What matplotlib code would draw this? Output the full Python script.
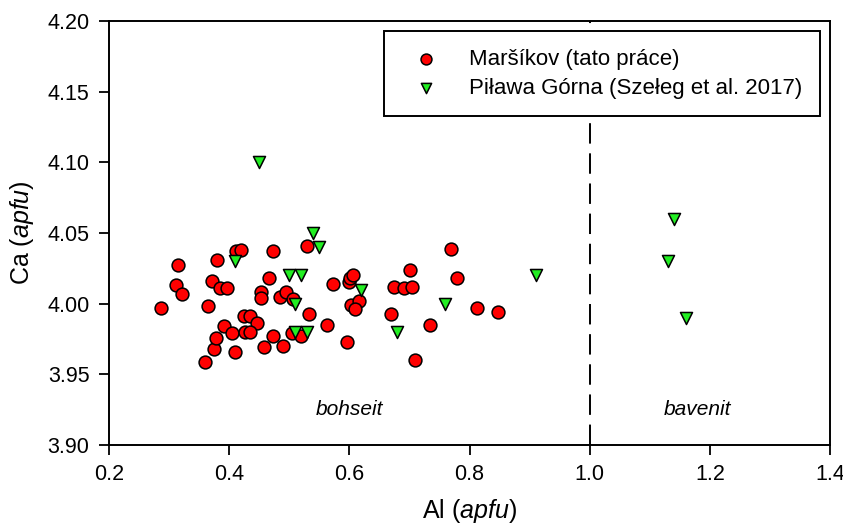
import numpy as np
import matplotlib.pyplot as plt

plt.rcParams['font.family'] = ['Liberation Sans', 'DejaVu Sans']
plt.rcParams['mathtext.fontset'] = 'custom'
plt.rcParams['mathtext.it'] = 'Liberation Sans:italic'
plt.rcParams['mathtext.rm'] = 'Liberation Sans'

# Maršíkov (this work)
al_marsikov = [0.286, 0.315, 0.311, 0.321, 0.360, 0.375, 0.378, 0.364, 0.371, 0.379,
               0.385, 0.397, 0.391, 0.405, 0.410, 0.412, 0.420, 0.425, 0.435, 0.447,
               0.426, 0.435, 0.453, 0.453, 0.466, 0.473, 0.458, 0.473, 0.489, 0.484,
               0.494, 0.506, 0.505, 0.520, 0.533, 0.530, 0.563, 0.573, 0.596, 0.599,
               0.601, 0.606, 0.602, 0.616, 0.610, 0.769, 0.701, 0.675, 0.691, 0.705,
               0.779, 0.669, 0.734, 0.812, 0.848, 0.710]
ca_marsikov = [3.997, 4.027, 4.013, 4.007, 3.959, 3.968, 3.976, 3.998, 4.016, 4.031,
               4.011, 4.011, 3.984, 3.979, 3.966, 4.037, 4.038, 3.991, 3.991, 3.986,
               3.980, 3.980, 4.008, 4.004, 4.018, 4.037, 3.969, 3.977, 3.970, 4.005,
               4.008, 4.003, 3.979, 3.977, 3.993, 4.041, 3.985, 4.014, 3.973, 4.015,
               4.018, 4.020, 3.999, 4.002, 3.996, 4.039, 4.024, 4.012, 4.011, 4.012,
               4.018, 3.993, 3.985, 3.997, 3.994, 3.960]

# Piława Górna (Szełeg et al. 2017)
al_pilawa = [0.45, 0.54, 0.55, 0.41, 0.50, 0.52, 0.51, 0.51, 0.53, 0.62,
             0.68, 0.76, 0.91, 1.14, 1.13, 1.16]
ca_pilawa = [4.10, 4.05, 4.04, 4.03, 4.02, 4.02, 4.00, 3.98, 3.98, 4.01,
             3.98, 4.00, 4.02, 4.06, 4.03, 3.99]

fig = plt.figure(figsize=(8.43, 5.24), dpi=100)
ax = fig.add_axes([0.1293, 0.1508, 0.8553, 0.8092])

ax.scatter(al_marsikov, ca_marsikov, s=85, marker='o', facecolor='#ff0000',
           edgecolor='black', linewidth=1.1, zorder=3,
           label='Maršíkov (tato práce)')
ax.scatter(al_pilawa, ca_pilawa, s=75, marker='v', facecolor='#22ee22',
           edgecolor='black', linewidth=1.1, zorder=3,
           label='Piława Górna (Szełeg et al. 2017)')

ax.axvline(1.0, color='black', linewidth=1.4, dashes=(10.5, 5), zorder=2)

ax.text(0.6, 3.925, 'bohseit', style='italic', fontsize=15, ha='center', va='center')
ax.text(1.18, 3.925, 'bavenit', style='italic', fontsize=15, ha='center', va='center')

ax.set_xlim(0.2, 1.4)
ax.set_ylim(3.90, 4.20)
ax.set_xticks(np.arange(0.2, 1.41, 0.2))
ax.set_yticks(np.arange(3.90, 4.201, 0.05))
ax.xaxis.set_major_formatter(plt.FormatStrFormatter('%.1f'))
ax.yaxis.set_major_formatter(plt.FormatStrFormatter('%.2f'))
ax.tick_params(direction='out', length=7, width=1.3, labelsize=15.5, pad=7)
for sp in ax.spines.values():
    sp.set_linewidth(1.4)

ax.set_xlabel('Al ($\\mathit{apfu}$)', fontsize=18, labelpad=8)
ax.set_ylabel('Ca ($\\mathit{apfu}$)', fontsize=18, labelpad=8)

leg = ax.legend(loc='upper right', bbox_to_anchor=(0.986, 0.976), borderaxespad=0,
                fontsize=16, frameon=True, fancybox=False, edgecolor='black',
                framealpha=1, borderpad=0.8, labelspacing=0.35,
                handlelength=2.1, handletextpad=0.9, markerscale=0.85)
leg.get_frame().set_linewidth(1.4)

fig.savefig('out.png', dpi=100)
